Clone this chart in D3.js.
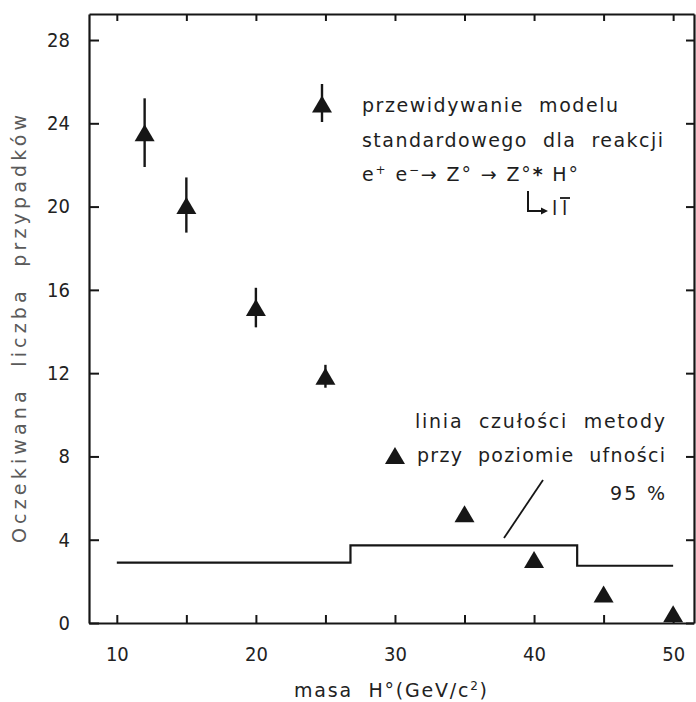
<!DOCTYPE html>
<html>
<head>
<meta charset="utf-8">
<script src="https://cdn.jsdelivr.net/npm/d3@7"></script>
<style>
  html, body { margin: 0; padding: 0; background: #fff; }
  svg { display: block; }
  text { white-space: pre; }
</style>
</head>
<body>
<script>
// Expected number of events vs Higgs mass (Standard Model prediction)
const masses         = [12, 15, 20, 25, 30, 35, 40, 45, 50];
const expectedCounts = [23.5, 20.0, 15.1, 11.8, 8.0, 5.2, 3.0, 1.35, 0.4];
const errLow         = [21.9, 18.75, 14.2, 11.3, null, null, null, null, null];
const errHigh        = [25.2, 21.4, 16.1, 12.4, null, null, null, null, null];

// Sensitivity line of the method (95% CL), piecewise constant
const limitEdges  = [10, 26.8, 43.1, 50];
const limitLevels = [2.9, 3.73, 2.75];

const xTicks      = [10, 15, 20, 25, 30, 35, 40, 45, 50];
const xTickLabels = ["10", "", "20", "", "30", "", "40", "", "50"];
const yTicks      = [0, 4, 8, 12, 16, 20, 24, 28];
const yTickLabels = ["0", "4", "8", "12", "16", "20", "24", "28"];

const legendLines = ["przewidywanie  modelu", "standardowego  dla  reakcji"];
const limitNote   = ["linia  czułości  metody", "przy  poziomie  ufności", "95 %"];
const yTitle      = "Oczekiwana  liczba  przypadków";

const W = 696, H = 702;
const INK = "#161616";
const FONT = "'DejaVu Sans', sans-serif";
const DIGITS = "'DejaVu Sans Condensed', 'DejaVu Sans', sans-serif";

const svg = d3.select("body").append("svg")
  .attr("width", W).attr("height", H)
  .attr("viewBox", `0 0 ${W} ${H}`);

const x = d3.scaleLinear().domain([8, 51.5]).range([89, 694]);
const y = d3.scaleLinear().domain([0, 29.25]).range([623, 14]);

function styleAxis(g) {
  g.select(".domain").attr("stroke", INK).attr("stroke-width", 2.2);
  g.selectAll(".tick line").attr("stroke", INK).attr("stroke-width", 2);
  g.selectAll(".tick text")
    .attr("fill", "#222")
    .style("font-family", DIGITS)
    .style("font-size", "20px");
}

// frame: four axes with inward ticks
svg.append("g")
  .attr("transform", `translate(0,${y(0)})`)
  .call(d3.axisBottom(x).tickValues(xTicks)
    .tickFormat((d, i) => xTickLabels[i])
    .tickSize(-8).tickSizeOuter(0).tickPadding(24))
  .call(styleAxis);

svg.append("g")
  .attr("transform", `translate(0,${y.range()[1]})`)
  .call(d3.axisTop(x).tickValues(xTicks).tickFormat("")
    .tickSize(-7).tickSizeOuter(0))
  .call(styleAxis);

svg.append("g")
  .attr("transform", `translate(${x.range()[0]},0)`)
  .call(d3.axisLeft(y).tickValues(yTicks)
    .tickFormat((d, i) => yTickLabels[i])
    .tickSize(-10).tickSizeOuter(0).tickPadding(19))
  .call(styleAxis);

svg.append("g")
  .attr("transform", `translate(${x.range()[1]},0)`)
  .call(d3.axisRight(y).tickValues(yTicks).tickFormat("")
    .tickSize(-8).tickSizeOuter(0))
  .call(styleAxis);

// sensitivity step line
const stepPts = limitLevels.map((v, i) => [limitEdges[i], v]);
stepPts.push([limitEdges[limitEdges.length - 1], limitLevels[limitLevels.length - 1]]);
svg.append("path")
  .datum(stepPts)
  .attr("fill", "none")
  .attr("stroke", INK)
  .attr("stroke-width", 2.2)
  .attr("d", d3.line().x(d => x(d[0])).y(d => y(d[1])).curve(d3.curveStepAfter));

// error bars
const pts = masses.map((m, i) => ({ m, v: expectedCounts[i], lo: errLow[i], hi: errHigh[i] }));
svg.append("g").selectAll("line")
  .data(pts.filter(d => d.lo != null))
  .join("line")
  .attr("x1", d => x(d.m)).attr("x2", d => x(d.m))
  .attr("y1", d => y(d.lo)).attr("y2", d => y(d.hi))
  .attr("stroke", INK).attr("stroke-width", 2.4);

// triangle markers
const tri = "M0,-9.5L10,7.5L-10,7.5Z";
svg.append("g").selectAll("path")
  .data(pts)
  .join("path")
  .attr("d", tri)
  .attr("transform", d => `translate(${x(d.m)},${y(d.v)})`)
  .attr("fill", INK);

// legend: marker with error bar + description
const lg = svg.append("g");
lg.append("line")
  .attr("x1", 322).attr("x2", 322).attr("y1", 84).attr("y2", 122)
  .attr("stroke", INK).attr("stroke-width", 2.4);
lg.append("path").attr("d", tri).attr("transform", "translate(322,105)").attr("fill", INK);

const legendWidths = [256, 301];
legendLines.forEach((t, i) => {
  lg.append("text")
    .attr("x", 362).attr("y", 112 + i * 35)
    .attr("textLength", legendWidths[i]).attr("lengthAdjust", "spacing")
    .style("font-family", FONT).style("font-size", "19px")
    .attr("fill", "#1e1e1e")
    .text(t);
});

// reaction formula
const f = lg.append("text")
  .attr("x", 362).attr("y", 181)
  .attr("textLength", 216).attr("lengthAdjust", "spacing")
  .style("font-family", FONT).style("font-size", "19px")
  .attr("fill", "#1e1e1e");
f.append("tspan").text("e");
f.append("tspan").attr("dy", -7).style("font-size", "12px").text("+");
f.append("tspan").attr("dy", 7).text(" e");
f.append("tspan").attr("dy", -7).style("font-size", "12px").text("\u2212");
f.append("tspan").attr("dy", 7).text("\u2192 Z\u00b0 \u2192 Z\u00b0");
f.append("tspan").style("font-weight", "bold").text("*");
f.append("tspan").text(" H\u00b0");

// decay branch  Z° -> l l̄
lg.append("path")
  .attr("d", "M528,191V211H543")
  .attr("fill", "none").attr("stroke", INK).attr("stroke-width", 2);
lg.append("path").attr("d", "M548,211L541,207.5L541,214.5Z").attr("fill", INK);
const leptons = [{ x: 552, bar: false }, { x: 562, bar: true }];
leptons.forEach(l => {
  lg.append("text")
    .attr("x", l.x).attr("y", 215)
    .style("font-family", FONT).style("font-size", "19px").attr("fill", "#1e1e1e")
    .text("l");
  if (l.bar) {
    lg.append("line")
      .attr("x1", l.x - 2).attr("x2", l.x + 8).attr("y1", 198).attr("y2", 198)
      .attr("stroke", INK).attr("stroke-width", 1.8);
  }
});

// note on the sensitivity line
const noteWidths = [250, 248, 55];
const noteBase = [428, 462, 500];
limitNote.forEach((t, i) => {
  svg.append("text")
    .attr("x", 665).attr("y", noteBase[i])
    .attr("text-anchor", "end")
    .attr("textLength", noteWidths[i]).attr("lengthAdjust", "spacing")
    .style("font-family", FONT).style("font-size", "19px")
    .attr("fill", "#1e1e1e")
    .text(t);
});
svg.append("line")
  .attr("x1", 543).attr("y1", 480).attr("x2", 504).attr("y2", 538)
  .attr("stroke", INK).attr("stroke-width", 1.8);

// axis titles
svg.append("text")
  .attr("transform", "translate(26,329) rotate(-90)")
  .attr("text-anchor", "middle")
  .attr("textLength", 428).attr("lengthAdjust", "spacing")
  .style("font-family", FONT).style("font-size", "19px")
  .attr("fill", "#5a5a5a")
  .text(yTitle);

const xt = svg.append("text")
  .attr("x", 294).attr("y", 697)
  .attr("textLength", 193).attr("lengthAdjust", "spacing")
  .style("font-family", FONT).style("font-size", "19px")
  .attr("fill", "#222");
xt.append("tspan").text("masa  H\u00b0");
xt.append("tspan").text("(GeV/c");
xt.append("tspan").attr("dy", -7).style("font-size", "12px").text("2");
xt.append("tspan").attr("dy", 7).text(")");
</script>
</body>
</html>
